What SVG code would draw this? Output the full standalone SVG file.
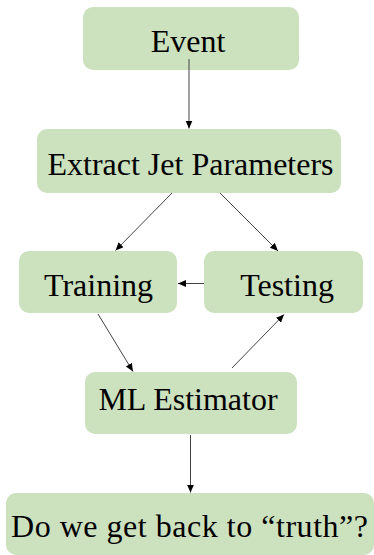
<svg xmlns="http://www.w3.org/2000/svg" width="374" height="555" viewBox="0 0 374 555">
<style>
.box{fill:#cce1be;stroke:none}
.lbl{font-family:"Liberation Serif","Times New Roman",serif;font-size:32px;fill:#000;text-anchor:middle}
.edge{stroke:#444;stroke-width:1;fill:none;marker-end:url(#ah)}
</style>
<defs>
<marker id="ah" markerUnits="userSpaceOnUse" markerWidth="9" markerHeight="8" refX="8" refY="3.5" orient="auto">
<path d="M0,0 L8,3.5 L0,7 z" fill="#000"/>
</marker>
</defs>
<rect width="374" height="555" fill="#fff"/>
<g id="event"><rect class="box" x="83" y="7" width="216" height="63" rx="10"/><text class="lbl" x="188" y="52">Event</text></g>
<g id="extract"><rect class="box" x="37" y="129" width="304" height="64" rx="10"/><text class="lbl" x="190.5" y="175">Extract Jet Parameters</text></g>
<g id="training"><rect class="box" x="19" y="251" width="158" height="62" rx="10"/><text class="lbl" x="98.5" y="296">Training</text></g>
<g id="testing"><rect class="box" x="204" y="251" width="159" height="62" rx="10"/><text class="lbl" x="287" y="296">Testing</text></g>
<g id="ml"><rect class="box" x="85" y="372" width="212" height="62" rx="10"/><text class="lbl" x="188" y="410">ML Estimator</text></g>
<g id="truth"><rect class="box" x="6" y="493" width="368" height="62" rx="10"/><text class="lbl" x="189.5" y="537" textLength="357" lengthAdjust="spacing">Do we get back to “truth”?</text></g>
<g id="connectors">
<line class="edge" x1="189" y1="59" x2="189" y2="128.5"/>
<line class="edge" x1="172" y1="193" x2="115.5" y2="250.5"/>
<line class="edge" x1="220" y1="193" x2="278" y2="251"/>
<line class="edge" x1="204" y1="283.5" x2="178" y2="283.5"/>
<line class="edge" x1="98" y1="314" x2="133" y2="371.5"/>
<line class="edge" x1="232" y1="368" x2="284" y2="314.5"/>
<line class="edge" x1="190.5" y1="435" x2="190.5" y2="492.5"/>
</g>
</svg>
